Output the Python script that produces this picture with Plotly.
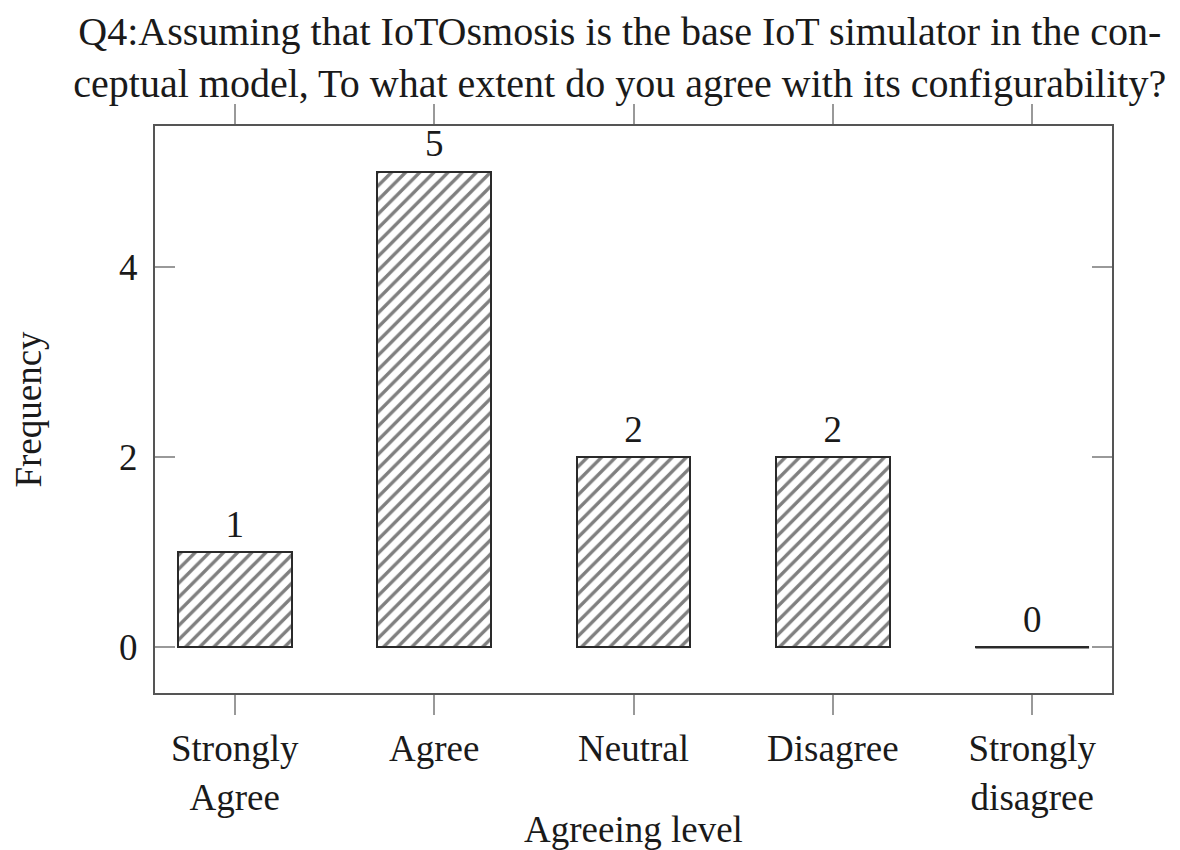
import plotly.graph_objects as go

categories = ["Strongly<br>Agree", "Agree", "Neutral", "Disagree", "Strongly<br>disagree"]
frequencies = [1, 5, 2, 2, 0]
y_ticks = [0, 2, 4]
title_text = ("Q4:Assuming that IoTOsmosis is the base IoT simulator in the con-<br>"
              "ceptual model, To what extent do you agree with its configurability?")

FONT = "Liberation Serif"
FS = 37
BAR_W = 0.57
idx = list(range(len(categories)))

fig = go.Figure()
fig.add_trace(go.Bar(
    x=idx, y=frequencies, width=BAR_W,
    marker=dict(color="white",
                line=dict(color="#2a2a2a", width=2),
                pattern=dict(shape="/", fgcolor="#000000", bgcolor="white",
                             size=10, solidity=0.34)),
    hoverinfo="skip", showlegend=False,
))
# zero-height bars drawn as a flat line
for i, v in zip(idx, frequencies):
    if v == 0:
        fig.add_trace(go.Scatter(x=[i - BAR_W / 2, i + BAR_W / 2], y=[v, v], mode="lines",
                                 line=dict(color="#2a2a2a", width=2.5), showlegend=False,
                                 hoverinfo="skip"))
fig.add_trace(go.Scatter(
    x=idx, y=frequencies, mode="text+markers", text=[str(v) for v in frequencies],
    marker=dict(size=8, opacity=0),
    textposition="top center", textfont=dict(family=FONT, size=FS, color="#1a1a1a"),
    showlegend=False, hoverinfo="skip",
))

fig.update_layout(
    width=1172, height=842,
    margin=dict(l=147, r=68, t=118, b=157),
    paper_bgcolor="white", plot_bgcolor="white",
    font=dict(family=FONT, size=FS, color="#1a1a1a"),
    title=dict(text=title_text, x=0.522, xanchor="center", y=1 - 37 / 842, yanchor="middle",
               yref="container", xref="container",
               font=dict(family=FONT, size=40, color="#1a1a1a")),
    bargap=0,
)
fig.update_xaxes(
    range=[-0.4, 4.4], tickvals=idx, ticktext=categories,
    showline=True, linecolor="#555555", linewidth=2, mirror="ticks",
    ticks="outside", ticklen=20, tickwidth=2, tickcolor="#999999",
    showgrid=False, zeroline=False, ticklabelstandoff=2, automargin=False,
    title=dict(text="Agreeing level", font=dict(family=FONT, size=FS), standoff=0),
)
fig.update_yaxes(
    range=[-0.48, 5.48], tickvals=y_ticks,
    showline=True, linecolor="#555555", linewidth=2, mirror="ticks",
    ticks="inside", ticklen=20, tickwidth=2, tickcolor="#999999",
    showgrid=False, zeroline=False, ticklabelstandoff=8, automargin=False,
    title=dict(text="Frequency", font=dict(family=FONT, size=FS), standoff=97),
)
fig.write_html("out.html")
